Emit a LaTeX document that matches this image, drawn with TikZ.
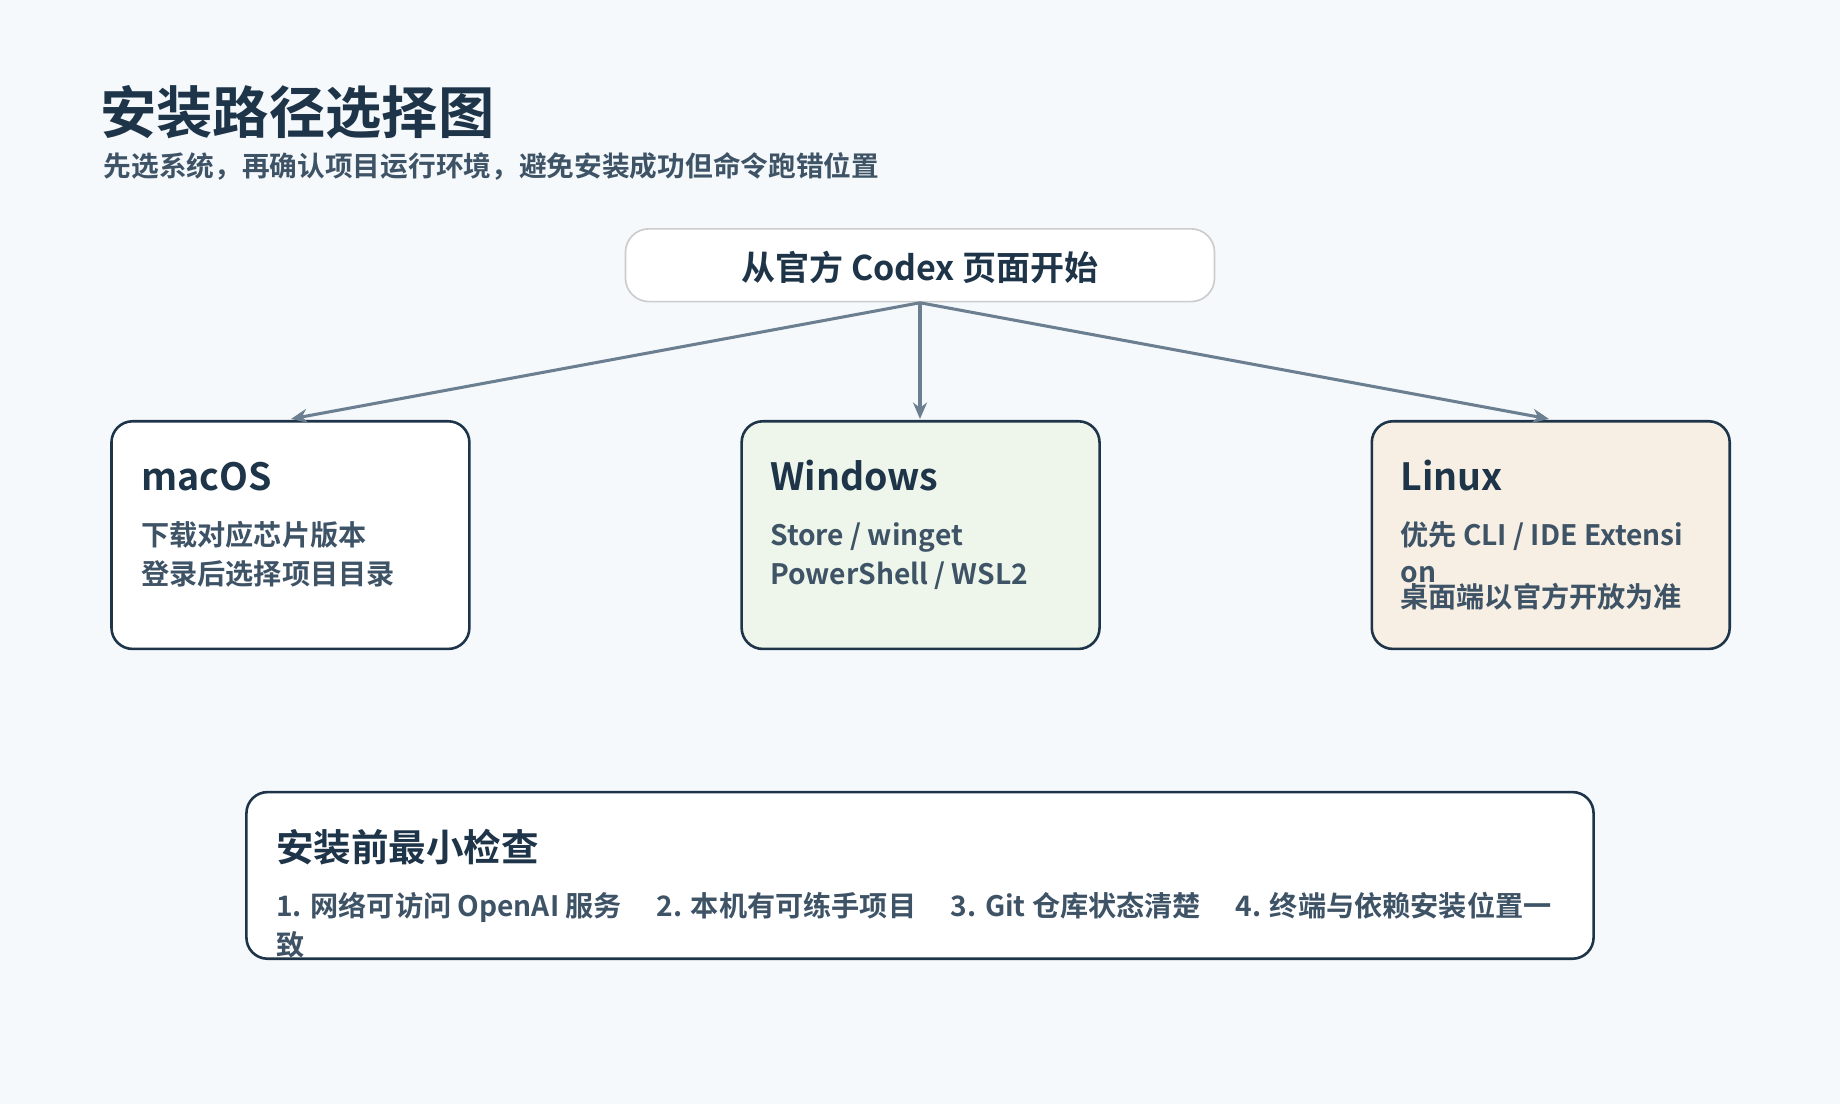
\documentclass[tikz,border=0pt]{standalone}
\usepackage{fontspec}
\setmainfont{Noto Sans CJK SC}[BoldFont={* Bold}]
\usetikzlibrary{arrows.meta,positioning}
\definecolor{navy}{HTML}{1E3448}
\definecolor{subtext}{HTML}{3E5366}
\definecolor{arrowgray}{HTML}{6B7F90}
\definecolor{bgblue}{HTML}{F5F9FC}
\definecolor{wingreen}{HTML}{EEF5EA}
\definecolor{linbeige}{HTML}{F7EFE3}
\begin{document}
\begin{tikzpicture}[
    x=0.5pt, y=-0.5pt,
    panel/.style={draw=navy, line width=1.1pt, rounded corners=9pt},
    heading/.style={anchor=base west, font=\fontsize{16}{18}\selectfont\bfseries, text=navy, inner sep=0pt},
    detail/.style={anchor=base west, font=\fontsize{12}{16.5}\selectfont\bfseries, text=subtext, inner sep=0pt},
    link/.style={draw=arrowgray, line width=1.3pt, -{Stealth[length=7pt,width=6pt]}}
  ]
  % background
  \fill[bgblue] (0,0) rectangle (1568,941);
  \useasboundingbox (0,0) rectangle (1568,941);

  % title
  \node (title) [anchor=base west, inner sep=0pt, text=navy, font=\fontsize{24}{26}\selectfont\bfseries] at (85,114) {安装路径选择图};
  \node (subtitle) [anchor=base west, inner sep=0pt, text=subtext, font=\fontsize{11.8}{13}\selectfont\bfseries] at (88,150) {先选系统，再确认项目运行环境，避免安装成功但命令跑错位置};

  % start box
  \draw[fill=white, draw=black!20, line width=0.7pt, rounded corners=10pt] (533,195) rectangle (1035,257);
  \node (start) [font=\fontsize{14.5}{16}\selectfont\bfseries, text=navy] at (784,228) {从官方 Codex 页面开始};
  \coordinate (startS) at (784,258);

  % platform boxes
  \draw[panel, fill=white] (95,359) rectangle (400,553);
  \draw[panel, fill=wingreen] (632,359) rectangle (937,553);
  \draw[panel, fill=linbeige] (1169,359) rectangle (1474,553);
  \coordinate (macN) at (248,357);
  \coordinate (winN) at (784,357);
  \coordinate (linN) at (1320,357);

  \node (mac) [heading] at (120,418) {macOS};
  \node (mac1) [detail] at (120,465) {下载对应芯片版本};
  \node (mac2) [detail] at (120,498) {登录后选择项目目录};
  \node (win) [heading] at (656,418) {Windows};
  \node (win1) [detail] at (656,465) {Store / winget};
  \node (win2) [detail] at (656,498) {PowerShell / WSL2};
  \node (lin) [heading] at (1193,418) {Linux};
  \node (lin1) [detail] at (1193,465) {优先 CLI / IDE Extensi};
  \node (lin2) [detail] at (1193,496) {on};
  \node (lin3) [detail] at (1193,518) {桌面端以官方开放为准};

  % connectors
  \draw[link] (startS) -- (macN);
  \draw[link] (startS) -- (winN);
  \draw[link] (startS) -- (linN);

  % checklist
  \draw[panel, fill=white] (210,675) rectangle (1358,817);
  \node (check) [heading] at (235,734) {安装前最小检查};
  \node (check1) [detail] at (235,781) {1. 网络可访问 OpenAI 服务\quad\ 2. 本机有可练手项目\quad\ 3. Git 仓库状态清楚\quad\ 4. 终端与依赖安装位置一};
  \node (check2) [detail] at (235,814) {致};
\end{tikzpicture}
\end{document}
